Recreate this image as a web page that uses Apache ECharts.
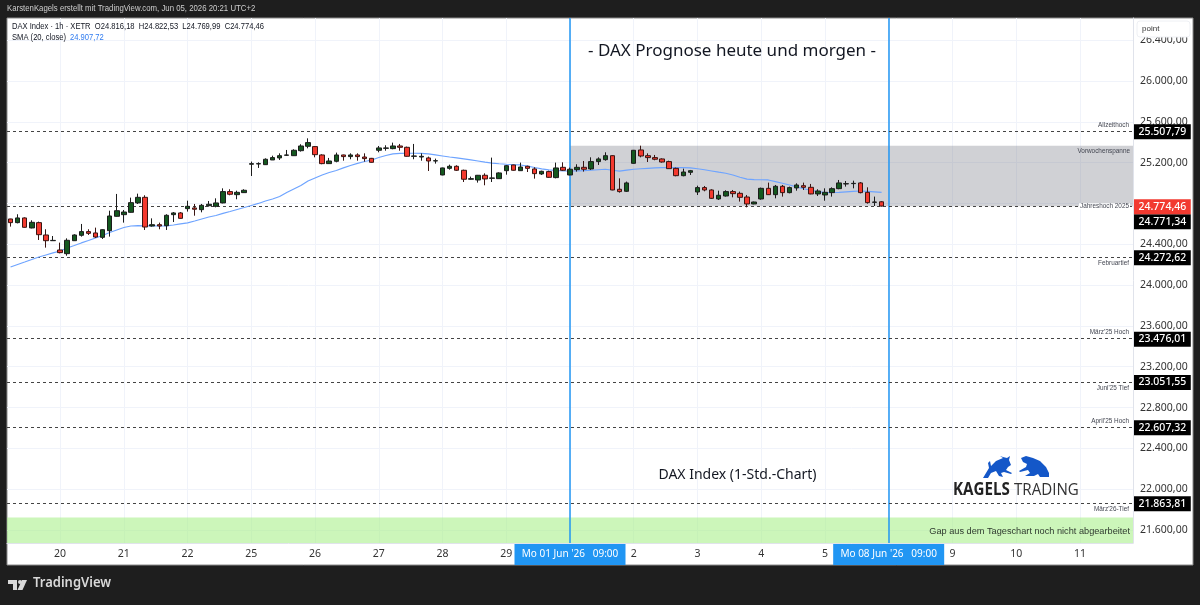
<!DOCTYPE html>
<html lang="de">
<head>
<meta charset="utf-8">
<title>DAX Index 1h</title>
<script src="https://cdn.jsdelivr.net/npm/echarts@6/dist/echarts.min.js"></script>
<style>html,body{margin:0;padding:0;background:#1e1e1e}#chart{width:1200px;height:605px}</style>
</head>
<body>
<div id="chart"></div>
<script>
// Session days on the hourly axis; each German session has nine hourly bars.
const sessionDays = ['20','21','22','25','26','27','28','29','1','2','3','4','5','8','9','10','11'];
const sessionHours = ['09:00','10:00','11:00','12:00','13:00','14:00','15:00','16:00','17:00'];
const partialDayHours = ['11:00','12:00','13:00','14:00','15:00','16:00','17:00'];

const opens = [24648,24612,24658,24560,24612,24491,24435,24344,24308,24435,24488,24524,24511,24468,24533,24674,24690,24713,24805,24860,24579,24592,24582,24690,24707,24749,24756,24739,24778,24772,24805,24916,24886,24906,25184,25187,25180,25226,25246,25272,25268,25317,25360,25357,25275,25190,25213,25275,25259,25275,25255,25242,25321,25340,25337,25363,25350,25262,25255,25246,25216,25079,25144,25164,25125,25037,25030,25076,25046,25043,25121,25177,25121,25164,25138,25089,25112,25053,25154,25079,25131,25154,25138,25210,25229,25268,24939,24919,25193,25324,25268,25249,25236,25210,25144,25072,25105,24912,24955,24932,24844,24873,24916,24899,24863,24795,24844,24948,24886,24968,24906,24952,24974,24958,24893,24883,24906,24945,24991,24994,25001,24909,24811,24816.18];
const closes = [24612,24658,24566,24615,24494,24435,24438,24318,24439,24491,24524,24507,24471,24543,24677,24729,24716,24808,24860,24569,24592,24579,24684,24707,24654,24772,24743,24782,24792,24805,24916,24890,24909,24929,25190,25190,25233,25249,25268,25275,25321,25363,25396,25278,25190,25216,25275,25259,25275,25259,25239,25203,25344,25344,25363,25350,25262,25265,25262,25216,25219,25148,25164,25125,25037,25043,25076,25040,25050,25099,25170,25125,25157,25144,25092,25115,25056,25148,25125,25135,25154,25135,25210,25236,25268,24932,24916,25001,25321,25265,25249,25233,25206,25141,25072,25108,25121,24955,24932,24850,24880,24916,24896,24860,24795,24814,24948,24886,24968,24906,24955,24981,24958,24893,24922,24909,24945,25001,24994,24997,24906,24808,24814,24774.46];
const lows = [24573,24605,24563,24556,24442,24367,24432,24311,24288,24432,24475,24491,24462,24452,24475,24671,24612,24710,24795,24540,24573,24547,24540,24618,24651,24720,24680,24713,24769,24762,24801,24880,24841,24903,25069,25148,25177,25226,25226,25265,25265,25308,25340,25252,25184,25187,25203,25219,25233,25219,25210,25200,25301,25317,25331,25317,25259,25233,25219,25118,25190,25076,25131,25118,25010,25033,25004,24978,25010,25040,25082,25121,25118,25108,25043,25079,25050,25046,25118,25076,25112,25112,25128,25177,25219,24929,24906,24912,25190,25252,25206,25223,25200,25138,25066,25066,25079,24883,24919,24844,24834,24867,24860,24818,24762,24792,24837,24883,24850,24867,24899,24925,24932,24890,24873,24827,24867,24939,24965,24948,24899,24798,24775,24769.99];
const highs = [24650,24694,24664,24635,24622,24547,24481,24416,24458,24498,24599,24547,24563,24547,24729,24893,24736,24857,24896,24880,24654,24612,24694,24716,24716,24827,24795,24795,24824,24850,24948,24939,24925,24939,25210,25203,25242,25268,25291,25324,25331,25380,25438,25363,25282,25246,25298,25278,25291,25291,25291,25246,25363,25370,25396,25383,25357,25383,25291,25259,25239,25151,25180,25174,25131,25063,25079,25095,25249,25105,25177,25180,25200,25170,25154,25121,25121,25200,25203,25151,25184,25216,25252,25252,25301,25272,25046,25014,25324,25366,25291,25275,25242,25219,25151,25141,25128,24974,24971,24939,24925,24929,24932,24916,24883,24818,24955,25004,24981,24981,24965,24997,25004,24991,24939,24948,24958,25030,25020,25023,25010,24958,24867,24822.53];
const sma20 = [24177,24202,24226,24251,24275,24295,24315,24334,24364,24388,24413,24437,24462,24486,24515,24540,24564,24579,24582,24581,24580,24579,24581,24589,24599,24609,24628,24648,24667,24682,24702,24721,24741,24760,24780,24800,24824,24844,24868,24907,24942,24976,25020,25050,25079,25103,25123,25148,25172,25192,25211,25226,25250,25270,25285,25290,25292,25292,25290,25285,25275,25265,25255,25246,25236,25226,25216,25204,25195,25189,25184,25180,25177,25165,25152,25138,25128,25123,25120,25118,25118,25121,25125,25130,25135,25125,25116,25126,25135,25140,25144,25148,25150,25151,25151,25151,25149,25140,25130,25118,25106,25096,25079,25057,25038,25034,25032,25030,25014,24998,24981,24963,24944,24929,24916,24906,24907,24909,24914,24919,24922,24918,24914,24907.72];

// Price levels drawn as dashed lines, each with a note on the chart and a tag on the scale.
const levelPrices = [25507.79, 24771.34, 24272.62, 23476.01, 23051.55, 22607.32, 21863.81];
const levelNames = ['Allzeithoch', 'Jahreshoch 2025', 'Februartief', "März'25 Hoch", "Juni'25 Tief", "April'25 Hoch", "März'26-Tief"];
const levelNotePlaces = ['insideEndTop', 'insideEnd', 'insideEndBottom', 'insideEndTop', 'insideEndBottom', 'insideEndTop', 'insideEndBottom'];
const priceTicks = [21600,22000,22400,22800,23200,23600,24000,24400,24800,25200,25600,26000,26400];
const priceLabels = [21600,22000,22400,22800,23200,23600,24000,24400,25200,25600,26000,26400];
const lastPrice = 24774.46;
const smaLast = 24907.72;
const weekRange = [25366, 24771.34];
const gapRange = [21722, 21473];
const markedSessions = ['Mo 01 Jun \'26   09:00', 'Mo 08 Jun \'26   09:00'];

const FONT = '"Noto Sans", sans-serif';
const SMALL_FONT = '"Liberation Sans", sans-serif';
const categories = [];
partialDayHours.forEach(h => categories.push('19|' + h));
sessionDays.forEach(d => sessionHours.forEach(h => categories.push(d + '|' + h)));
categories.length = 159;
const candles = opens.map((o, i) => [o, closes[i], lows[i], highs[i]]);
const fmt = v => v.toLocaleString('de-DE', { minimumFractionDigits: 2, maximumFractionDigits: 2 });
const isSessionStart = (i, name) => name.endsWith('|09:00');
const sessionIndex = d => categories.indexOf(d + '|09:00');

const plot = { left: 7, top: 18, width: 1126, height: 525 };

const noteItems = levelPrices.map((p, i) => ({
  yAxis: p,
  label: {
    show: true, position: levelNotePlaces[i], formatter: levelNames[i], fontFamily: SMALL_FONT, fontSize: 6.4,
    color: '#434651', distance: 3,
    backgroundColor: levelNotePlaces[i] === 'insideEnd' ? '#ffffff' : 'transparent',
    padding: [0, 1]
  }
}));
const priceTag = (p, fill, shift) => ({
  yAxis: p,
  lineStyle: { color: 'rgba(0,0,0,0)' },
  label: {
    show: true, position: 'end', distance: 1, formatter: fmt(p), offset: [0, shift],
    color: '#fff', backgroundColor: fill, fontFamily: FONT, fontSize: 10.5, lineHeight: 15, padding: [0, 4.5], fontWeight: 500
  }
});
const tagItems = levelPrices.map(p => priceTag(p, '#000', p === 24771.34 ? 15.5 : 0.6));
tagItems.push(priceTag(lastPrice, '#f23a30', 0.6));

const option = {
  animation: false,
  backgroundColor: '#1e1e1e',
  textStyle: { fontFamily: FONT },
  title: {
    text: '- DAX Prognose heute und morgen -',
    left: 727, top: 38, textAlign: 'center',
    textStyle: { fontFamily: FONT, fontSize: 17, fontWeight: 'normal', color: '#131722' }
  },
  grid: { ...plot, containLabel: false },
  xAxis: {
    type: 'category', data: categories, boundaryGap: true,
    axisLine: { show: true, lineStyle: { color: '#e0e3eb', width: 1 } },
    axisTick: { show: false },
    axisLabel: {
      interval: isSessionStart, formatter: n => n.split('|')[0],
      color: '#333', fontFamily: FONT, fontSize: 10.5, margin: 6
    },
    splitLine: { show: true, interval: isSessionStart, alignWithLabel: true, lineStyle: { color: '#f0f3fa', width: 1 } }
  },
  yAxis: {
    type: 'value', position: 'right', scale: true, min: gapRange[1], max: 26617,
    axisLine: { show: true, lineStyle: { color: '#e0e3eb', width: 1 } },
    axisTick: { show: false, customValues: priceTicks },
    axisLabel: { customValues: priceLabels, formatter: fmt, color: '#333', fontFamily: FONT, fontSize: 10.5, margin: 7, padding: [0, 0, 2, 0] },
    splitLine: { show: true, lineStyle: { color: '#f0f3fa', width: 1 } }
  },
  series: [
    {
      name: 'Spannen', type: 'line', data: [], z: 1, silent: true,
      markArea: {
        silent: true, z: 1,
        data: [
          [{ yAxis: gapRange[0], itemStyle: { color: 'rgba(170,240,140,0.6)' },
             label: { show: true, position: 'insideRight', distance: 3, offset: [0, 1], formatter: 'Gap aus dem Tageschart noch nicht abgearbeitet',
                      color: '#2f3a2f', fontFamily: SMALL_FONT, fontSize: 9.2 } },
           { yAxis: gapRange[1] }],
          [{ xAxis: categories[sessionIndex('1')], yAxis: weekRange[0], itemStyle: { color: 'rgba(120,123,134,0.35)' },
             label: { show: true, position: 'insideTopRight', distance: 3, formatter: 'Vorwochenspanne', color: '#434651', fontFamily: SMALL_FONT, fontSize: 6.4 } },
           { x: plot.left + plot.width, yAxis: weekRange[1] }]
        ]
      }
    },
    {
      name: 'Wochenstart', type: 'line', data: [], z: 2, silent: true,
      markLine: {
        silent: true, symbol: 'none', z: 2,
        lineStyle: { color: '#2196f3', width: 1.5, type: 'solid' },
        data: ['1', '8'].map((d, i) => ({
          xAxis: categories[sessionIndex(d)],
          label: {
            show: true, position: 'start', distance: 1, formatter: markedSessions[i],
            color: '#fff', backgroundColor: '#2196f3', fontFamily: FONT, fontSize: 10,
            width: 111, height: 21, lineHeight: 21, align: 'center'
          }
        }))
      }
    },
    {
      name: 'Marken', type: 'line', data: [], z: 2, silent: true,
      markLine: {
        silent: true, symbol: 'none', z: 2,
        lineStyle: { color: '#444', width: 1, type: [3, 3] },
        data: noteItems.concat(tagItems)
      }
    },
    {
      name: 'SMA 20', type: 'line', data: sma20, z: 3, symbol: 'none', smooth: false, silent: true,
      lineStyle: { color: '#6ea4ff', width: 1.2 }
    },
    {
      name: 'DAX', type: 'candlestick', data: candles, z: 4, barWidth: 5, silent: true,
      itemStyle: { color: '#14581f', color0: '#f4392e', borderColor: '#1c1c1c', borderColor0: '#3a1512', borderWidth: 1 }
    }
  ],
  graphic: [
    { type: 'rect', z: -10, silent: true, shape: { x: 7, y: 18, width: 1186, height: 547 }, style: { fill: '#fff', stroke: '#8a8a8a', lineWidth: 1 } },
    { type: 'text', z: 20, x: 7, y: 4, scaleX: 0.867, style: { text: 'KarstenKagels erstellt mit TradingView.com, Jun 05, 2026 20:21 UTC+2', fill: '#cfcfcf', font: '9px ' + SMALL_FONT } },
    { type: 'text', z: 20, x: 12, y: 22, scaleX: 0.845, style: { text: 'DAX Index · 1h · XETR  O' + fmt(opens[123]) + '  H' + fmt(highs[123]) + '  L' + fmt(lows[123]) + '  C' + fmt(closes[123]), fill: '#131722', font: '9px ' + SMALL_FONT } },
    { type: 'text', z: 20, x: 12, y: 33, scaleX: 0.845, style: { text: 'SMA (20, close)', fill: '#131722', font: '9px ' + SMALL_FONT } },
    { type: 'text', z: 20, x: 70, y: 33, scaleX: 0.845, style: { text: fmt(smaLast), fill: '#2f7bf0', font: '9px ' + SMALL_FONT } },
    { type: 'rect', z: 20, silent: true, shape: { x: 1137, y: 21, width: 53, height: 16, r: 3 }, style: { fill: '#fff', stroke: '#eef0f4', lineWidth: 1 } },
    { type: 'text', z: 21, x: 1142, y: 25, style: { text: 'point', fill: '#333', font: '8px ' + SMALL_FONT } },
    { type: 'text', z: 20, x: 737.5, y: 468, style: { text: 'DAX Index (1-Std.-Chart)', fill: '#131722', font: '14px ' + FONT, textAlign: 'center' } },
    // Wordmark with bull and bear
    { type: 'polygon', z: 20, silent: true, shape: { points: [[983,478],[989,468],[988,463],[990,461],[991,466],[996,461],[1003,458],[1000,456],[1003,457],[1007,458],[1010,456],[1009,460],[1011,465],[1008,467],[1006,470],[1012,473],[1011,474],[1004,472],[1001,473],[1003,477],[999,476],[996,471],[991,473],[988,478]] }, style: { fill: '#1457c8' } },
    { type: 'polygon', z: 20, silent: true, shape: { points: [[1021,458],[1026,456],[1033,458],[1040,461],[1046,467],[1049,473],[1049,477],[1040,477],[1038,474],[1034,476],[1025,476],[1030,473],[1028,470],[1020,472],[1019,471],[1026,467],[1027,464],[1023,462]] }, style: { fill: '#1457c8' } },
    { type: 'text', z: 20, x: 953, y: 482, scaleX: 0.89, style: { text: 'KAGELS', fill: '#222', font: 'bold 17px "Open Sans"' } },
    { type: 'text', z: 20, x: 1014, y: 482, scaleX: 0.89, style: { text: 'TRADING', fill: '#333', font: '17px "Open Sans"' } },
    // Footer mark
    { type: 'polygon', z: 20, silent: true, shape: { points: [[8,580],[17,580],[17,590],[13,590],[13,584],[8,584]] }, style: { fill: '#d9d9d9' } },
    { type: 'polygon', z: 20, silent: true, shape: { points: [[22,580],[27,580],[22.5,590],[17.5,590]] }, style: { fill: '#d9d9d9' } },
    { type: 'circle', z: 20, silent: true, shape: { cx: 20, cy: 582, r: 2 }, style: { fill: '#d9d9d9' } },
    { type: 'text', z: 20, x: 33, y: 576, scaleX: 0.93, style: { text: 'TradingView', fill: '#d9d9d9', font: '600 14px ' + FONT } }
  ]
};

echarts.init(document.getElementById('chart'), null, { renderer: 'canvas' }).setOption(option);
</script>
</body>
</html>
